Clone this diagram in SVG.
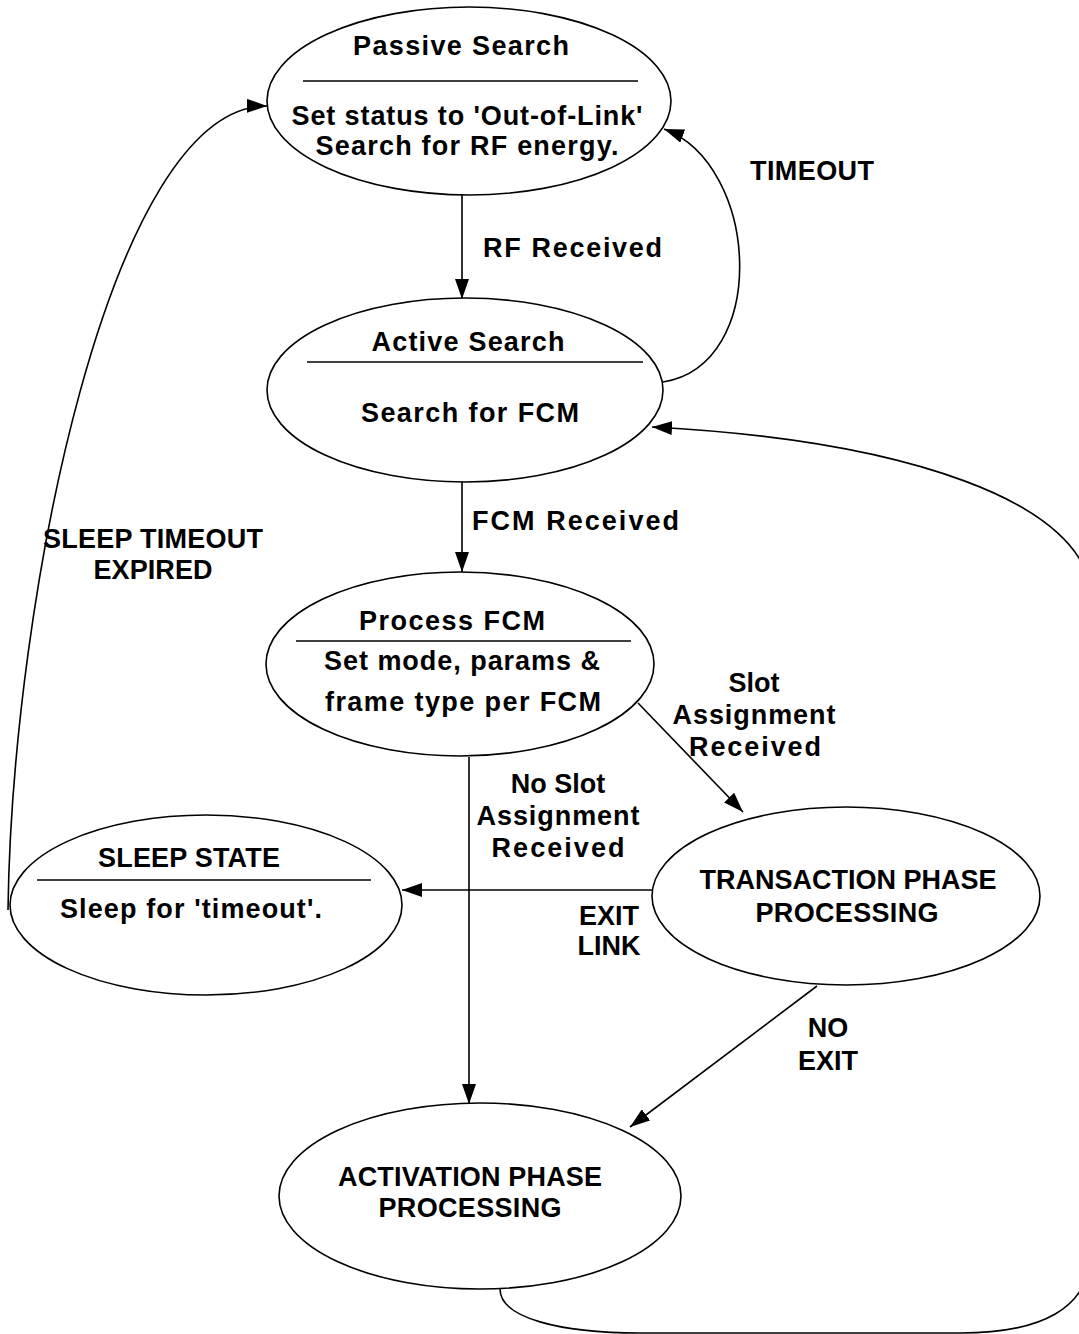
<svg xmlns="http://www.w3.org/2000/svg" width="1079" height="1334" viewBox="0 0 1079 1334">
<defs>
<style>
.node ellipse{fill:#fff;stroke:#000;stroke-width:1.6}
.node line{stroke:#000;stroke-width:1.6}
text{font-family:"Liberation Sans",Arial,sans-serif;font-weight:bold;font-size:27px;fill:#000}
.c{text-anchor:middle}
#connectors path{fill:none;stroke:#000;stroke-width:1.6}
</style>
<marker id="ah" viewBox="0 0 20 14" refX="20" refY="7" markerWidth="20" markerHeight="14" orient="auto" markerUnits="userSpaceOnUse"><path d="M0,0 L20,7 L0,14 z" fill="#000"/></marker>
</defs>
<rect width="1079" height="1334" fill="#fff"/>
<g id="connectors">
<path d="M462,195 L462,299" marker-end="url(#ah)"/>
<path d="M462,482 L462,572" marker-end="url(#ah)"/>
<path d="M663,382 C770,365 760,165 664,129" marker-end="url(#ah)"/>
<path d="M638,703 L743,812" marker-end="url(#ah)"/>
<path d="M469,757 L469,1104" marker-end="url(#ah)"/>
<path d="M652,890 L402,890" marker-end="url(#ah)"/>
<path d="M817,986 L630,1127" marker-end="url(#ah)"/>
<path d="M8,910 C12,600 110,105 267,106" marker-end="url(#ah)"/>
<path d="M500,1289 C500,1318 560,1333 640,1333 L960,1333 C1040,1333 1090,1310 1092,1250 L1092,600 C1090,500 900,440 652,427" marker-end="url(#ah)"/>
<text x="483" y="257" textLength="179" lengthAdjust="spacing">RF  Received</text>
<text x="750" y="180" textLength="124" lengthAdjust="spacing">TIMEOUT</text>
<text x="472" y="530" textLength="207" lengthAdjust="spacing">FCM  Received</text>
<text x="754" y="692" class="c">Slot</text>
<text x="754" y="724" class="c" textLength="163" lengthAdjust="spacing">Assignment</text>
<text x="755" y="756" class="c" textLength="132" lengthAdjust="spacing">Received</text>
<text x="558" y="793" class="c">No Slot</text>
<text x="558" y="825" class="c" textLength="163" lengthAdjust="spacing">Assignment</text>
<text x="558" y="857" class="c" textLength="133" lengthAdjust="spacing">Received</text>
<text x="609" y="925" class="c">EXIT</text>
<text x="609" y="955" class="c">LINK</text>
<text x="828" y="1037" class="c">NO</text>
<text x="828" y="1070" class="c">EXIT</text>
<text x="43" y="548" textLength="220" lengthAdjust="spacing">SLEEP TIMEOUT</text>
<text x="153" y="579" class="c" textLength="119" lengthAdjust="spacing">EXPIRED</text>
</g>
<g id="passive" class="node">
<ellipse cx="469" cy="101" rx="202" ry="94"/>
<line x1="303" y1="81" x2="638" y2="81"/>
<text x="461" y="55" class="c" textLength="216" lengthAdjust="spacing">Passive  Search</text>
<text x="467" y="125" class="c" textLength="351" lengthAdjust="spacing">Set status to 'Out-of-Link'</text>
<text x="467" y="155" class="c" textLength="303" lengthAdjust="spacing">Search  for  RF  energy.</text>
</g>
<g id="active" class="node">
<ellipse cx="465" cy="390" rx="198" ry="92"/>
<line x1="307" y1="362" x2="643" y2="362"/>
<text x="468" y="351" class="c" textLength="193" lengthAdjust="spacing">Active  Search</text>
<text x="470" y="422" class="c" textLength="218" lengthAdjust="spacing">Search  for  FCM</text>
</g>
<g id="process" class="node">
<ellipse cx="460" cy="664" rx="194" ry="92"/>
<line x1="296" y1="641" x2="631" y2="641"/>
<text x="452" y="630" class="c" textLength="186" lengthAdjust="spacing">Process  FCM</text>
<text x="462" y="670" class="c" textLength="276" lengthAdjust="spacing">Set mode, params &amp;</text>
<text x="463" y="711" class="c" textLength="276" lengthAdjust="spacing">frame type per FCM</text>
</g>
<g id="sleep" class="node">
<ellipse cx="206" cy="905" rx="196" ry="90"/>
<line x1="37" y1="880" x2="371" y2="880"/>
<text x="189" y="867" class="c" textLength="182" lengthAdjust="spacing">SLEEP STATE</text>
<text x="191" y="918" class="c" textLength="262" lengthAdjust="spacing">Sleep  for  'timeout'.</text>
</g>
<g id="transaction" class="node">
<ellipse cx="846" cy="896" rx="194" ry="89"/>
<text x="848" y="889" class="c" textLength="297" lengthAdjust="spacing">TRANSACTION PHASE</text>
<text x="847" y="922" class="c" textLength="183" lengthAdjust="spacing">PROCESSING</text>
</g>
<g id="activation" class="node">
<ellipse cx="480" cy="1196" rx="201" ry="93"/>
<text x="470" y="1186" class="c" textLength="264" lengthAdjust="spacing">ACTIVATION PHASE</text>
<text x="470" y="1217" class="c" textLength="183" lengthAdjust="spacing">PROCESSING</text>
</g>
</svg>
